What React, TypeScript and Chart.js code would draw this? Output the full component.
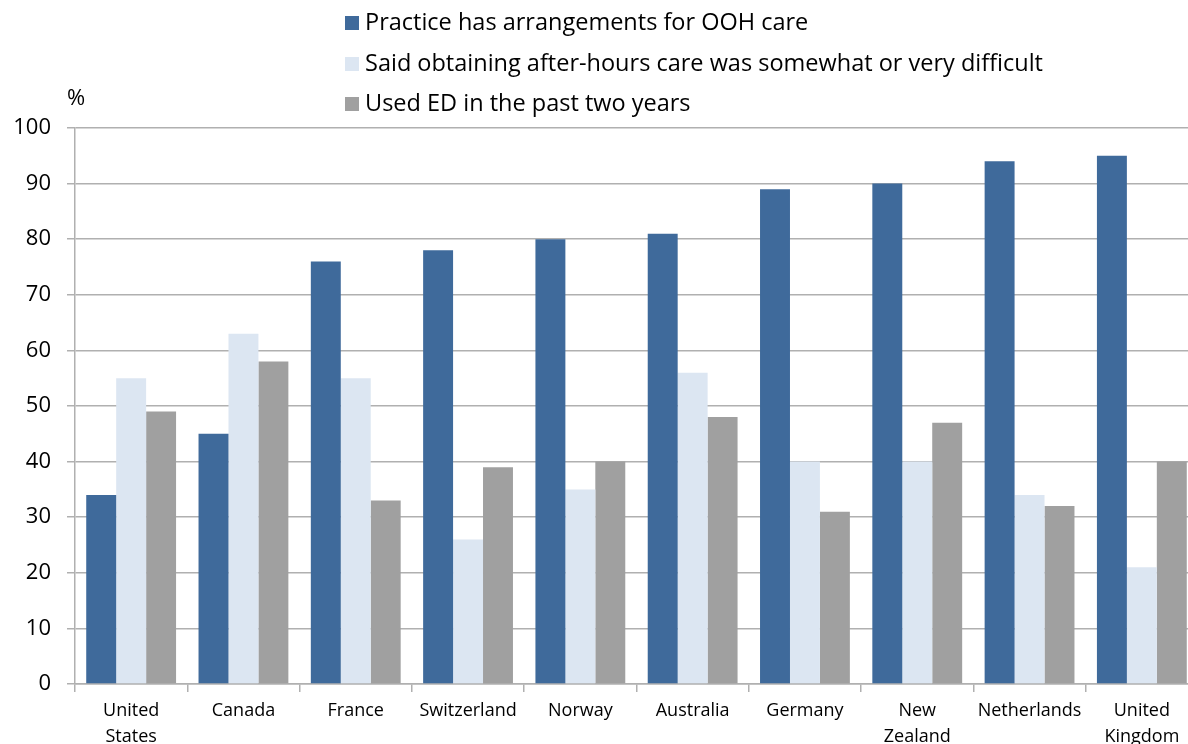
import React, { useEffect, useRef } from "react";
import { Chart, registerables } from "chart.js";

Chart.register(...registerables);

const categories: string[][] = [
  ["United", "States"],
  ["Canada"],
  ["France"],
  ["Switzerland"],
  ["Norway"],
  ["Australia"],
  ["Germany"],
  ["New", "Zealand"],
  ["Netherlands"],
  ["United", "Kingdom"],
];
const seriesNames = [
  "Practice has arrangements for OOH care",
  "Said obtaining after-hours care was somewhat or very difficult",
  "Used ED in the past two years",
];
const arrangements = [34, 45, 76, 78, 80, 81, 89, 90, 94, 95];
const difficult = [55, 63, 55, 26, 35, 56, 40, 40, 34, 21];
const usedED = [49, 58, 33, 39, 40, 48, 31, 47, 32, 40];
const colors = ["#3F6A9B", "#DCE6F2", "#A0A0A0"];
const yTicks = [0, 10, 20, 30, 40, 50, 60, 70, 80, 90, 100];

const FONT = "'Open Sans', sans-serif";

const legendPlugin = {
  id: "customLegend",
  afterDraw(chart: any) {
    const ctx = chart.ctx;
    ctx.save();
    ctx.font = `23.5px ${FONT}`;
    ctx.textBaseline = "middle";
    ctx.textAlign = "left";
    const x0 = 345;
    const ys = [23, 64, 104];
    chart.data.datasets.forEach((ds: any, i: number) => {
      ctx.fillStyle = ds.backgroundColor;
      ctx.fillRect(x0, ys[i] - 7, 14, 14);
      ctx.fillStyle = "#000";
      ctx.fillText(ds.label, x0 + 20, ys[i]);
    });
    ctx.font = `22px ${FONT}`;
    ctx.fillText("%", 67, 99);
    ctx.restore();
  },
};

export default function App() {
  const ref = useRef<HTMLCanvasElement>(null);
  useEffect(() => {
    if (!ref.current) return;
    const chart = new Chart(ref.current, {
      type: "bar",
      data: {
        labels: categories,
        datasets: [arrangements, difficult, usedED].map((d, i) => ({
          label: seriesNames[i],
          data: d,
          backgroundColor: colors[i],
          borderWidth: 0,
          barPercentage: 1.0,
          categoryPercentage: 0.8,
        })),
      },
      options: {
        animation: false,
        responsive: false,
        devicePixelRatio: 1,
        layout: { padding: { top: 128, right: 2, left: 0, bottom: 0 } },
        plugins: { legend: { display: false }, tooltip: { enabled: false } },
        scales: {
          x: {
            grid: {
              drawOnChartArea: false,
              drawTicks: true,
              tickLength: 8,
              color: "#B0B0B0",
              lineWidth: 1.5,
              offset: true,
            },
            border: { color: "#B0B0B0", width: 1.5 },
            ticks: {
              color: "#000",
              font: { family: FONT, size: 18, lineHeight: 1.45 },
              maxRotation: 0,
              autoSkip: false,
              padding: 6,
            },
            afterFit(scale: any) {
              scale.height = 76;
            },
          },
          y: {
            min: 0,
            max: 100,
            afterBuildTicks(scale: any) {
              scale.ticks = yTicks.map((v) => ({ value: v }));
            },
            grid: {
              color: "#B0B0B0",
              lineWidth: 1.5,
              tickLength: 8,
            },
            border: { color: "#B0B0B0", width: 1.5 },
            ticks: {
              color: "#000",
              font: { family: FONT, size: 22 },
              padding: 16,
            },
            afterFit(scale: any) {
              scale.width = 75;
            },
          },
        },
      },
      plugins: [legendPlugin],
    });
    return () => chart.destroy();
  }, []);
  return (
    <div
      style={{
        position: "fixed",
        left: 0,
        top: 0,
        width: 1188,
        height: 744,
        overflow: "hidden",
        background: "#fff",
      }}
    >
      <canvas ref={ref} width={1200} height={760} style={{ display: "block" }} />
    </div>
  );
}
